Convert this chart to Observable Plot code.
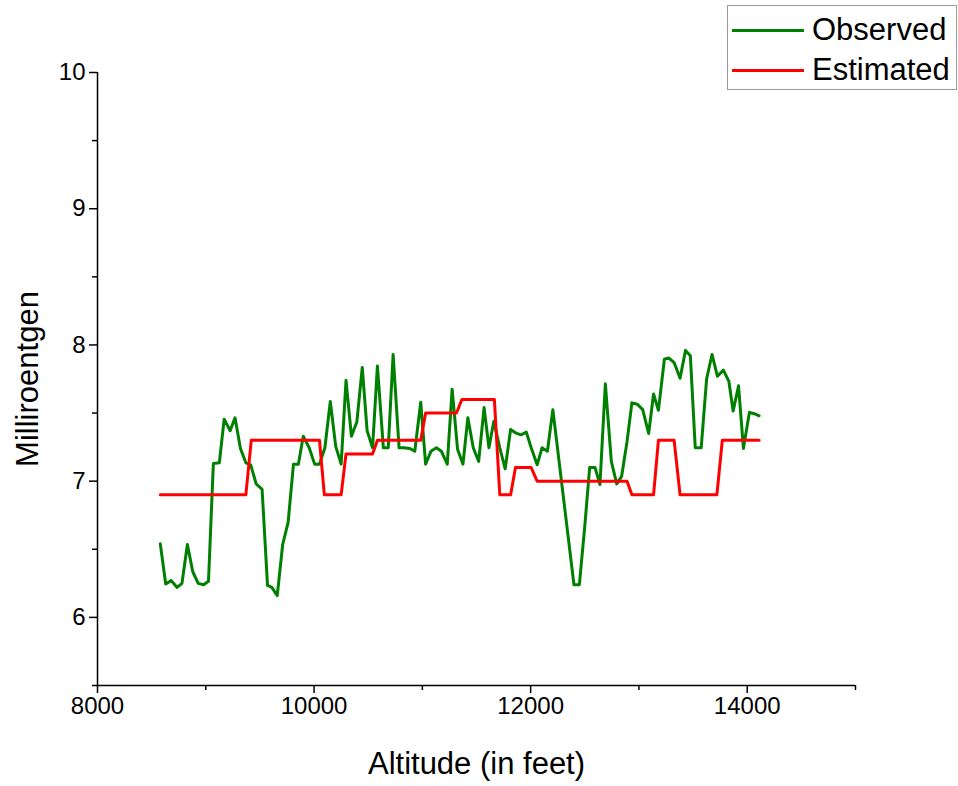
<!DOCTYPE html>
<html>
<head>
<meta charset="utf-8">
<script src="https://cdn.jsdelivr.net/npm/d3@7"></script>
<script src="https://cdn.jsdelivr.net/npm/@observablehq/plot@0.6"></script>
<style>
  html, body { margin: 0; padding: 0; background: #fff; }
  #wrap { position: relative; width: 958px; height: 786px; font-family: "Liberation Sans", Arial, sans-serif; }
  #legend { position: absolute; left: 727px; top: 5px; width: 230px; height: 85px; border: 1px solid #999; background: #fff; box-sizing: border-box; }
  .row { position: absolute; left: 0; height: 40px; display: flex; align-items: center; }
  .swatch { width: 72px; height: 3px; margin-left: 4px; margin-right: 8px; }
  .lab { font-size: 31px; color: #000; }
</style>
</head>
<body>
<div id="wrap"><div id="legend"></div></div>
<script>
const seriesNames = ["Observed", "Estimated"];
const seriesColors = ["#008000", "#ff0000"];

const obsAlt = [8580, 8630, 8680, 8735, 8780, 8830, 8880, 8930, 8980, 9025,
  9070, 9125, 9170, 9225, 9270, 9320, 9370, 9415, 9465, 9520,
  9570, 9610, 9660, 9710, 9760, 9810, 9855, 9900, 9955, 10005,
  10050, 10100, 10150, 10200, 10250, 10295, 10345, 10395, 10445, 10490,
  10540, 10585, 10640, 10685, 10730, 10785, 10830, 10885, 10930, 10985,
  11030, 11080, 11130, 11175, 11230, 11275, 11325, 11375, 11420, 11470,
  11520, 11570, 11615, 11660, 11715, 11765, 11815, 11860, 11910, 11960,
  12005, 12060, 12105, 12155, 12205, 12400, 12450, 12500, 12545, 12595,
  12640, 12690, 12745, 12795, 12840, 12890, 12935, 12985, 13035, 13090,
  13135, 13180, 13235, 13275, 13325, 13380, 13430, 13475, 13520, 13575,
  13625, 13675, 13725, 13780, 13830, 13870, 13920, 13965, 14020, 14065, 14110];
const obsVal = [6.54, 6.245, 6.27, 6.22, 6.25, 6.535, 6.335, 6.25, 6.24, 6.265,
  7.13, 7.135, 7.455, 7.37, 7.465, 7.24, 7.135, 7.12, 6.98, 6.94,
  6.235, 6.22, 6.16, 6.535, 6.695, 7.125, 7.125, 7.33, 7.245, 7.125,
  7.125, 7.245, 7.585, 7.255, 7.125, 7.74, 7.33, 7.435, 7.835, 7.37,
  7.245, 7.845, 7.245, 7.245, 7.93, 7.245, 7.245, 7.24, 7.22, 7.58,
  7.125, 7.22, 7.245, 7.22, 7.125, 7.675, 7.235, 7.125, 7.465, 7.245,
  7.145, 7.54, 7.245, 7.44, 7.245, 7.09, 7.38, 7.355, 7.34, 7.36,
  7.245, 7.12, 7.245, 7.22, 7.525, 6.24, 6.24, 6.67, 7.10, 7.10,
  6.975, 7.715, 7.145, 6.98, 7.035, 7.29, 7.575, 7.565, 7.525, 7.35,
  7.64, 7.52, 7.895, 7.905, 7.87, 7.755, 7.96, 7.92, 7.245, 7.245,
  7.75, 7.93, 7.77, 7.815, 7.735, 7.515, 7.70, 7.24, 7.505, 7.495, 7.48];

const estAlt = [8580, 9370, 9420, 10050, 10095, 10250, 10295, 10540, 10585, 10985,
  11030, 11315, 11365, 11665, 11715, 11815, 11860, 12005, 12060, 12890,
  12935, 13135, 13180, 13325, 13380, 13720, 13770, 14110];
const estVal = [6.9, 6.9, 7.3, 7.3, 6.9, 6.9, 7.2, 7.2, 7.3, 7.3,
  7.5, 7.5, 7.6, 7.6, 6.9, 6.9, 7.1, 7.1, 7.0, 7.0,
  6.9, 6.9, 7.3, 7.3, 6.9, 6.9, 7.3, 7.3];

const xDomain = [8000, 15000];
const yDomain = [5.5, 10];
const xMajor = [8000, 10000, 12000, 14000];
const xMinor = [9000, 11000, 13000, 15000];
const yMajor = [6, 7, 8, 9, 10];
const yMinor = [5.5, 6.5, 7.5, 8.5, 9.5];
const xTitle = "Altitude (in feet)";
const yTitle = "Milliroentgen";

const obs = obsAlt.map((a, i) => ({alt: a, v: obsVal[i]}));
const est = estAlt.map((a, i) => ({alt: a, v: estVal[i]}));

const chart = Plot.plot({
  width: 958,
  height: 786,
  marginLeft: 97,
  marginRight: 103,
  marginTop: 72,
  marginBottom: 101,
  style: {fontFamily: '"Liberation Sans", Arial, sans-serif', color: "#000", background: "transparent"},
  x: {domain: xDomain},
  y: {domain: yDomain},
  marks: [
    Plot.axisX(xMajor, {tickSize: 8, tickPadding: 3, fontSize: 24, tickFormat: d => String(d), label: null, strokeWidth: 1.5}),
    Plot.axisX(xMinor, {tickSize: 5, tickFormat: () => "", label: null, strokeWidth: 1.5}),
    Plot.axisY(yMajor, {tickSize: 8, tickPadding: 4, fontSize: 24, tickFormat: d => String(d), label: null, strokeWidth: 1.5}),
    Plot.axisY(yMinor, {tickSize: 5, tickFormat: () => "", label: null, strokeWidth: 1.5}),
    Plot.ruleX([xDomain[0]], {stroke: "#000", strokeWidth: 1.5}),
    Plot.ruleY([yDomain[0]], {stroke: "#000", strokeWidth: 1.5}),
    Plot.line(obs, {x: "alt", y: "v", stroke: seriesColors[0], strokeWidth: 3}),
    Plot.line(est, {x: "alt", y: "v", stroke: seriesColors[1], strokeWidth: 3}),
    Plot.text([xTitle], {frameAnchor: "bottom", dy: 88, fontSize: 31, fill: "#000"}),
    Plot.text([yTitle], {frameAnchor: "left", dx: -69, rotate: -90, textAnchor: "middle", fontSize: 31, fill: "#000"})
  ]
});
const wrap = document.getElementById("wrap");
wrap.insertBefore(chart, wrap.firstChild);

const legend = document.getElementById("legend");
seriesNames.forEach((name, i) => {
  const row = document.createElement("div");
  row.className = "row";
  row.style.top = (i * 40 + 4) + "px";
  const sw = document.createElement("div");
  sw.className = "swatch";
  sw.style.background = seriesColors[i];
  const lab = document.createElement("span");
  lab.className = "lab";
  lab.textContent = name;
  row.appendChild(sw);
  row.appendChild(lab);
  legend.appendChild(row);
});
</script>
</body>
</html>
